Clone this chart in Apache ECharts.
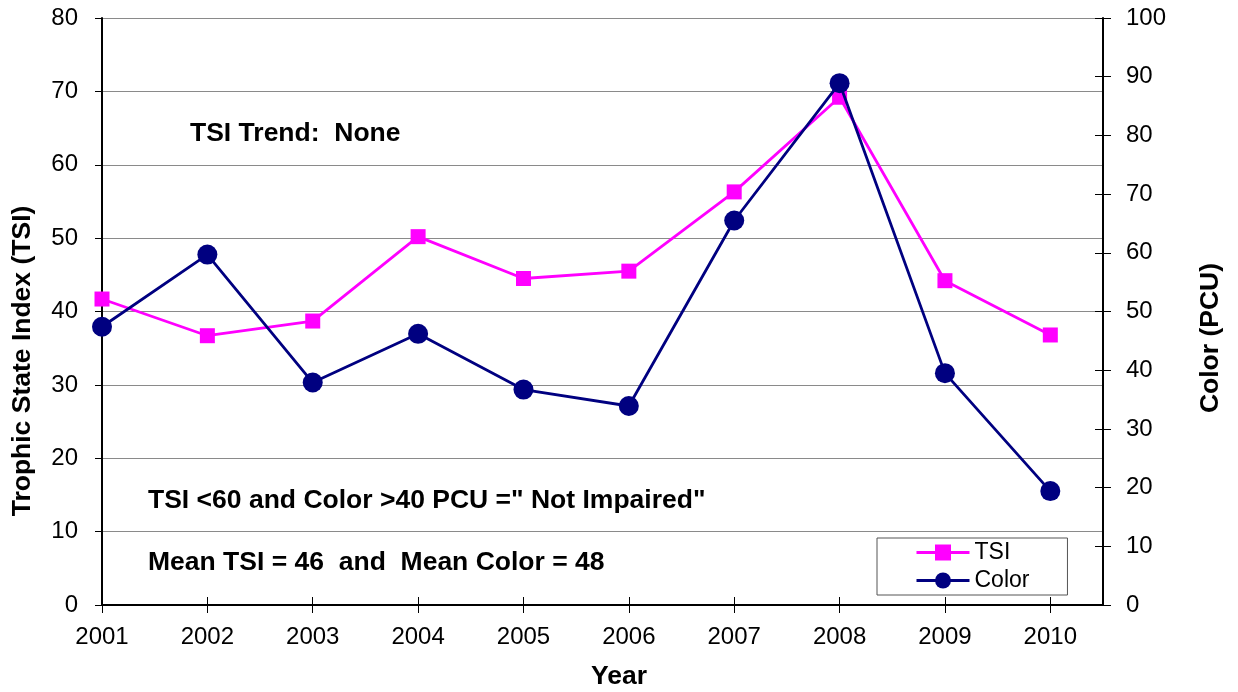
<!DOCTYPE html>
<html>
<head>
<meta charset="utf-8">
<script src="https://cdn.jsdelivr.net/npm/echarts@6/dist/echarts.min.js"></script>
<style>
html,body{margin:0;padding:0;background:#fff;}
#chart{width:1238px;height:692px;}
</style>
</head>
<body>
<div id="chart"></div>
<script>
const years = [2001, 2002, 2003, 2004, 2005, 2006, 2007, 2008, 2009, 2010];
const tsi = [41.7, 36.7, 38.7, 50.2, 44.5, 45.5, 56.3, 69.2, 44.2, 36.8];
const color = [47.4, 59.7, 37.9, 46.2, 36.7, 33.9, 65.5, 88.9, 39.5, 19.4];
const leftTicks = [0, 10, 20, 30, 40, 50, 60, 70, 80];
const rightTicks = [0, 10, 20, 30, 40, 50, 60, 70, 80, 90, 100];

const FONT = '"Liberation Sans", Arial, sans-serif';
const chart = echarts.init(document.getElementById('chart'), null, {renderer: 'canvas'});

const tickFont = {fontFamily: FONT, fontSize: 24, color: '#000'};
const bold = 'bold 26.5px ' + FONT;
const xBase = {
  type: 'value', min: years[0], max: years[years.length - 1] + 0.5, interval: 1,
  position: 'bottom', splitLine: {show: false},
  axisLine: {show: true, lineStyle: {color: '#000', width: 2}}
};

const option = {
  backgroundColor: '#fff',
  animation: false,
  grid: {left: 102, right: 135, top: 18, bottom: 87, containLabel: false},
  legend: {
    orient: 'vertical', left: 877, top: 538,
    data: ['TSI', 'Color'],
    backgroundColor: '#fff', borderColor: '#555', borderWidth: 1,
    padding: [3, 38, 3, 38], itemGap: 5, itemWidth: 53, itemHeight: 20,
    lineStyle: {width: 3},
    textStyle: {fontFamily: FONT, fontSize: 23, color: '#000'}
  },
  xAxis: [
    Object.assign({}, xBase, {
      axisTick: {show: true, inside: false, length: 8, customValues: years, lineStyle: {color: '#000', width: 1}},
      axisLabel: {show: true, margin: 20, customValues: years, formatter: v => String(v), ...tickFont}
    }),
    Object.assign({}, xBase, {
      axisTick: {show: true, inside: true, length: 8, customValues: years, lineStyle: {color: '#000', width: 1}},
      axisLabel: {show: false}
    })
  ],
  yAxis: [
    {
      type: 'value', min: leftTicks[0], max: leftTicks[leftTicks.length - 1], interval: 10, position: 'left',
      axisLine: {show: true, lineStyle: {color: '#000', width: 2}},
      axisTick: {show: true, inside: false, length: 7, lineStyle: {color: '#000'}},
      axisLabel: {margin: 24, ...tickFont},
      splitLine: {show: true, lineStyle: {color: '#8a8a8a', width: 1.2}}
    },
    {
      type: 'value', min: rightTicks[0], max: rightTicks[rightTicks.length - 1], interval: 10, position: 'right',
      axisLine: {show: true, lineStyle: {color: '#000', width: 2}},
      axisTick: {show: true, inside: false, length: 8, lineStyle: {color: '#000'}},
      axisLabel: {margin: 23, ...tickFont},
      splitLine: {show: false}
    },
    {
      type: 'value', min: rightTicks[0], max: rightTicks[rightTicks.length - 1], interval: 10, position: 'right',
      axisLine: {show: false},
      axisTick: {show: true, inside: true, length: 8, lineStyle: {color: '#000'}},
      axisLabel: {show: false},
      splitLine: {show: false}
    }
  ],
  series: [
    {
      name: 'TSI', type: 'line', xAxisIndex: 0, yAxisIndex: 0,
      data: years.map((y, i) => [y, tsi[i]]),
      symbol: 'rect', symbolSize: 15,
      lineStyle: {color: '#ff00ff', width: 2.8},
      itemStyle: {color: '#ff00ff'},
      z: 3
    },
    {
      name: 'Color', type: 'line', xAxisIndex: 0, yAxisIndex: 1,
      data: years.map((y, i) => [y, color[i]]),
      symbol: 'circle', symbolSize: 20,
      lineStyle: {color: '#000080', width: 2.8},
      itemStyle: {color: '#000080'},
      z: 4
    }
  ],
  graphic: [
    {type: 'text', left: 190, top: 120, style: {text: 'TSI Trend:  None', font: bold, fill: '#000'}},
    {type: 'text', left: 148, top: 487, style: {text: 'TSI <60 and Color >40 PCU =" Not Impaired"', font: bold, fill: '#000'}},
    {type: 'text', left: 148, top: 549, style: {text: 'Mean TSI = 46  and  Mean Color = 48', font: bold, fill: '#000'}},
    {type: 'text', x: 23, y: 361, rotation: Math.PI / 2,
      style: {text: 'Trophic State Index (TSI)', font: bold, fill: '#000', align: 'center', verticalAlign: 'middle'}},
    {type: 'text', x: 1211, y: 338, rotation: Math.PI / 2,
      style: {text: 'Color (PCU)', font: bold, fill: '#000', align: 'center', verticalAlign: 'middle'}},
    {type: 'text', x: 619, y: 677,
      style: {text: 'Year', font: bold, fill: '#000', align: 'center', verticalAlign: 'middle'}}
  ]
};
chart.setOption(option);
</script>
</body>
</html>
